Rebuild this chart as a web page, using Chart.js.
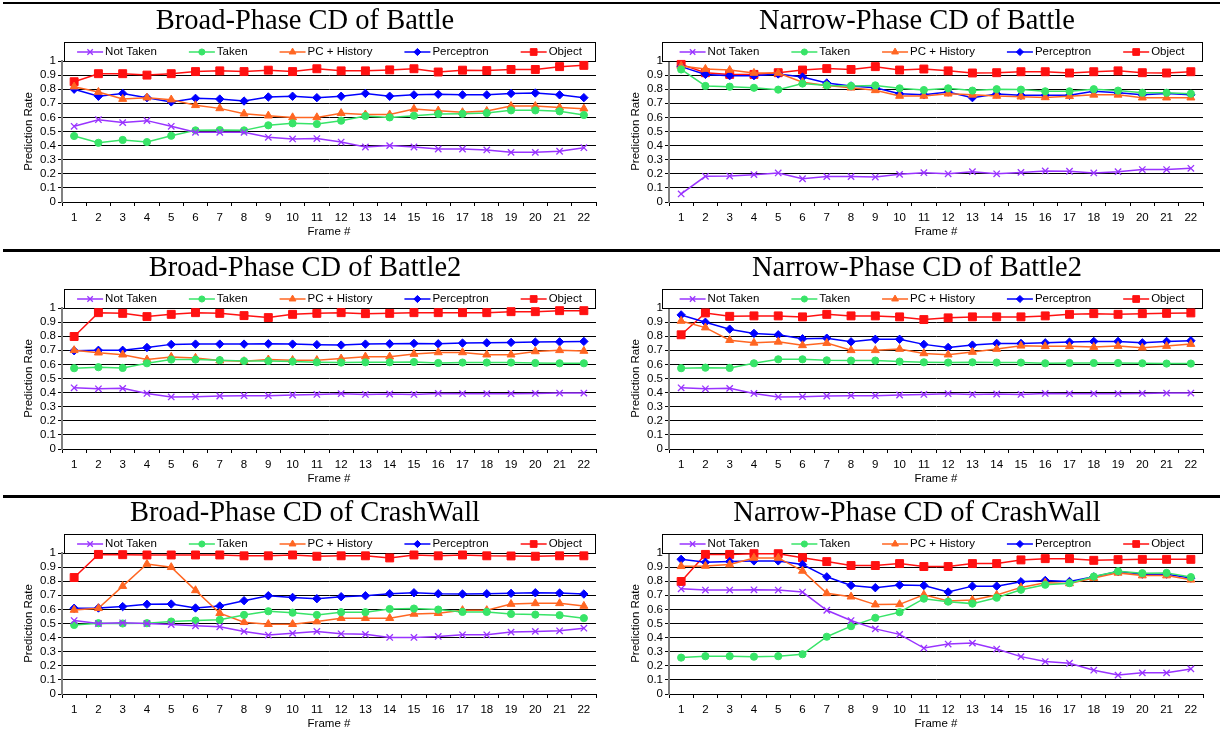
<!DOCTYPE html>
<html>
<head>
<meta charset="utf-8">
<script src="https://cdn.jsdelivr.net/npm/chart.js@4.4.0/dist/chart.umd.min.js"></script>
<style>
  html, body { margin: 0; padding: 0; background: #fff; }
  body { width: 1225px; height: 740px; position: relative; overflow: hidden; }
  .rule { position: absolute; left: 3px; width: 1217px; background: #000; }
  canvas { position: absolute; }
</style>
</head>
<body>
<div class="rule" style="top:2px;height:2px"></div>
<div class="rule" style="top:249px;height:3px"></div>
<div class="rule" style="top:495px;height:3px"></div>

<script>
const frames = ['1', '2', '3', '4', '5', '6', '7', '8', '9', '10', '11', '12', '13', '14', '15', '16', '17', '18', '19', '20', '21', '22'];
const seriesNames = ['Not Taken', 'Taken', 'PC + History', 'Perceptron', 'Object'];
const panelTitles = [
    'Broad-Phase CD of Battle', 'Narrow-Phase CD of Battle',
    'Broad-Phase CD of Battle2', 'Narrow-Phase CD of Battle2',
    'Broad-Phase CD of CrashWall', 'Narrow-Phase CD of CrashWall'
];
const yTicks = [0, 0.1, 0.2, 0.3, 0.4, 0.5, 0.6, 0.7, 0.8, 0.9, 1];
const yTickLabels = ['0', '0.1', '0.2', '0.3', '0.4', '0.5', '0.6', '0.7', '0.8', '0.9', '1'];

// --- Broad-Phase Battle ---
const broadBattleNotTaken = [0.537, 0.584, 0.563, 0.577, 0.537, 0.494, 0.494, 0.494, 0.459, 0.447, 0.45, 0.425, 0.39, 0.40, 0.39, 0.376, 0.376, 0.369, 0.352, 0.352, 0.36, 0.385];
const broadBattleTaken = [0.468, 0.42, 0.44, 0.425, 0.47, 0.508, 0.51, 0.508, 0.544, 0.558, 0.553, 0.577, 0.61, 0.60, 0.612, 0.624, 0.626, 0.631, 0.65, 0.65, 0.643, 0.617];
const broadBattlePC = [0.818, 0.78, 0.73, 0.74, 0.726, 0.686, 0.664, 0.626, 0.612, 0.60, 0.60, 0.63, 0.62, 0.62, 0.66, 0.648, 0.636, 0.645, 0.68, 0.68, 0.67, 0.662];
const broadBattlePerceptron = [0.80, 0.75, 0.77, 0.74, 0.71, 0.735, 0.73, 0.716, 0.745, 0.75, 0.74, 0.75, 0.77, 0.75, 0.76, 0.764, 0.76, 0.76, 0.77, 0.773, 0.76, 0.74];
const broadBattleObject = [0.853, 0.91, 0.91, 0.90, 0.91, 0.925, 0.93, 0.925, 0.935, 0.925, 0.945, 0.93, 0.93, 0.937, 0.945, 0.922, 0.935, 0.932, 0.94, 0.94, 0.96, 0.969];

// --- Narrow-Phase Battle ---
const narrowBattleNotTaken = [0.057, 0.182, 0.184, 0.194, 0.206, 0.165, 0.18, 0.18, 0.177, 0.196, 0.208, 0.20, 0.215, 0.20, 0.21, 0.22, 0.218, 0.206, 0.215, 0.23, 0.23, 0.239];
const narrowBattleTaken = [0.94, 0.823, 0.818, 0.81, 0.797, 0.84, 0.827, 0.823, 0.827, 0.806, 0.794, 0.806, 0.79, 0.80, 0.797, 0.785, 0.785, 0.80, 0.79, 0.775, 0.775, 0.768];
const narrowBattlePC = [0.965, 0.943, 0.936, 0.915, 0.915, 0.85, 0.827, 0.81, 0.792, 0.752, 0.752, 0.768, 0.76, 0.752, 0.747, 0.742, 0.75, 0.76, 0.76, 0.74, 0.74, 0.74];
const narrowBattlePerceptron = [0.96, 0.905, 0.896, 0.896, 0.908, 0.886, 0.844, 0.823, 0.81, 0.768, 0.76, 0.78, 0.74, 0.766, 0.757, 0.757, 0.757, 0.785, 0.775, 0.76, 0.77, 0.76];
const narrowBattleObject = [0.976, 0.917, 0.905, 0.905, 0.917, 0.936, 0.946, 0.94, 0.96, 0.936, 0.943, 0.93, 0.915, 0.917, 0.924, 0.924, 0.915, 0.924, 0.93, 0.917, 0.915, 0.924];

// --- Broad-Phase Battle2 ---
const broadBattle2NotTaken = [0.434, 0.427, 0.43, 0.394, 0.369, 0.371, 0.376, 0.378, 0.378, 0.383, 0.387, 0.392, 0.387, 0.39, 0.387, 0.394, 0.392, 0.392, 0.392, 0.394, 0.397, 0.397];
const broadBattle2Taken = [0.573, 0.58, 0.575, 0.608, 0.634, 0.634, 0.63, 0.624, 0.624, 0.62, 0.615, 0.613, 0.615, 0.615, 0.617, 0.61, 0.613, 0.613, 0.613, 0.61, 0.608, 0.608];
const broadBattle2PC = [0.70, 0.683, 0.669, 0.634, 0.653, 0.646, 0.627, 0.622, 0.634, 0.63, 0.63, 0.641, 0.655, 0.655, 0.674, 0.685, 0.685, 0.669, 0.669, 0.692, 0.70, 0.695];
const broadBattle2Perceptron = [0.697, 0.70, 0.70, 0.72, 0.742, 0.744, 0.744, 0.744, 0.746, 0.744, 0.74, 0.737, 0.744, 0.746, 0.749, 0.746, 0.751, 0.753, 0.756, 0.758, 0.76, 0.763];
const broadBattle2Object = [0.798, 0.967, 0.962, 0.939, 0.955, 0.967, 0.962, 0.946, 0.932, 0.955, 0.962, 0.967, 0.96, 0.962, 0.967, 0.967, 0.967, 0.967, 0.974, 0.974, 0.981, 0.981];

// --- Narrow-Phase Battle2 ---
const narrowBattle2NotTaken = [0.434, 0.427, 0.43, 0.394, 0.369, 0.371, 0.376, 0.378, 0.378, 0.383, 0.387, 0.392, 0.387, 0.39, 0.387, 0.394, 0.392, 0.392, 0.392, 0.394, 0.397, 0.397];
const narrowBattle2Taken = [0.573, 0.577, 0.575, 0.608, 0.636, 0.636, 0.629, 0.627, 0.627, 0.62, 0.615, 0.613, 0.615, 0.613, 0.613, 0.608, 0.61, 0.61, 0.61, 0.608, 0.606, 0.606];
const narrowBattle2PC = [0.908, 0.861, 0.772, 0.753, 0.76, 0.735, 0.751, 0.70, 0.70, 0.709, 0.678, 0.669, 0.688, 0.709, 0.732, 0.728, 0.728, 0.723, 0.73, 0.718, 0.73, 0.744];
const narrowBattle2Perceptron = [0.951, 0.899, 0.85, 0.82, 0.81, 0.782, 0.786, 0.76, 0.778, 0.778, 0.742, 0.72, 0.737, 0.749, 0.749, 0.753, 0.758, 0.763, 0.763, 0.753, 0.763, 0.768];
const narrowBattle2Object = [0.81, 0.965, 0.941, 0.944, 0.944, 0.937, 0.955, 0.944, 0.944, 0.937, 0.918, 0.93, 0.937, 0.937, 0.937, 0.944, 0.955, 0.96, 0.955, 0.96, 0.962, 0.965];

// --- Broad-Phase CrashWall ---
const broadCrashNotTaken = [0.521, 0.50, 0.505, 0.50, 0.493, 0.484, 0.477, 0.444, 0.418, 0.43, 0.444, 0.427, 0.423, 0.401, 0.401, 0.408, 0.42, 0.42, 0.439, 0.444, 0.448, 0.467];
const broadCrashTaken = [0.49, 0.502, 0.50, 0.502, 0.514, 0.521, 0.526, 0.561, 0.587, 0.577, 0.561, 0.58, 0.58, 0.603, 0.606, 0.599, 0.582, 0.582, 0.568, 0.563, 0.559, 0.538];
const broadCrashPC = [0.596, 0.608, 0.765, 0.922, 0.899, 0.735, 0.573, 0.509, 0.495, 0.495, 0.514, 0.538, 0.538, 0.538, 0.568, 0.573, 0.594, 0.594, 0.638, 0.643, 0.643, 0.624];
const broadCrashPerceptron = [0.608, 0.61, 0.62, 0.636, 0.638, 0.61, 0.624, 0.662, 0.697, 0.685, 0.676, 0.69, 0.697, 0.711, 0.718, 0.711, 0.709, 0.711, 0.714, 0.718, 0.716, 0.709];
const broadCrashObject = [0.826, 0.99, 0.988, 0.986, 0.986, 0.986, 0.986, 0.98, 0.98, 0.986, 0.977, 0.98, 0.98, 0.965, 0.986, 0.98, 0.986, 0.98, 0.979, 0.977, 0.98, 0.98];

// --- Narrow-Phase CrashWall ---
const narrowCrashNotTaken = [0.746, 0.737, 0.737, 0.739, 0.737, 0.723, 0.594, 0.521, 0.462, 0.423, 0.326, 0.354, 0.361, 0.319, 0.265, 0.23, 0.218, 0.169, 0.134, 0.15, 0.15, 0.178];
const narrowCrashTaken = [0.258, 0.268, 0.268, 0.265, 0.268, 0.282, 0.406, 0.481, 0.54, 0.58, 0.676, 0.655, 0.641, 0.683, 0.739, 0.775, 0.786, 0.833, 0.871, 0.857, 0.859, 0.829];
const narrowCrashPC = [0.906, 0.908, 0.918, 0.965, 0.965, 0.873, 0.714, 0.69, 0.634, 0.636, 0.704, 0.66, 0.667, 0.702, 0.756, 0.789, 0.784, 0.822, 0.859, 0.84, 0.84, 0.81];
const narrowCrashPerceptron = [0.955, 0.934, 0.939, 0.944, 0.944, 0.918, 0.831, 0.77, 0.754, 0.773, 0.77, 0.723, 0.765, 0.765, 0.796, 0.805, 0.798, 0.831, 0.869, 0.85, 0.85, 0.822];
const narrowCrashObject = [0.798, 0.99, 0.99, 0.995, 0.995, 0.967, 0.939, 0.911, 0.911, 0.925, 0.904, 0.904, 0.925, 0.925, 0.951, 0.96, 0.96, 0.948, 0.953, 0.955, 0.955, 0.955];

const panelSeries = [
    [broadBattleNotTaken, broadBattleTaken, broadBattlePC, broadBattlePerceptron, broadBattleObject],
    [narrowBattleNotTaken, narrowBattleTaken, narrowBattlePC, narrowBattlePerceptron, narrowBattleObject],
    [broadBattle2NotTaken, broadBattle2Taken, broadBattle2PC, broadBattle2Perceptron, broadBattle2Object],
    [narrowBattle2NotTaken, narrowBattle2Taken, narrowBattle2PC, narrowBattle2Perceptron, narrowBattle2Object],
    [broadCrashNotTaken, broadCrashTaken, broadCrashPC, broadCrashPerceptron, broadCrashObject],
    [narrowCrashNotTaken, narrowCrashTaken, narrowCrashPC, narrowCrashPerceptron, narrowCrashObject]
];

// styles, one per series
const seriesStyle = [
    { color: '#9933FF', pointStyle: 'crossRot', radius: 4.5, pointBorder: 1.3 },
    { color: '#38E468', pointStyle: 'circle', radius: 3.6, pointBorder: 1 },
    { color: '#FF6622', pointStyle: 'triangle', radius: 4.6, pointBorder: 1 },
    { color: '#0000FF', pointStyle: 'rectRot', radius: 4.2, pointBorder: 1 },
    { color: '#FF1111', pointStyle: 'rect', radius: 5.6, pointBorder: 1 }
];

// layout of the 3x2 grid
const colPos = [
    { left: 0, width: 610, padRight: 14, legendLeft: 2 },
    { left: 607, width: 620, padRight: 24, legendLeft: -7 }
];
const rowTops = [4, 251, 496];
const canvasHeight = 244;

const sansFont = '"Liberation Sans", Arial, sans-serif';
const labelSize = 11.5;

// legend drawn inside a bordered box sitting on top of the plot area
const legendBox = {
    id: 'legendBox',
    beforeDatasetsDraw(chart, args, opts) {
        const { ctx, chartArea } = chart;
        const x0 = Math.round(chartArea.left + opts.left);
        const x1 = Math.round(chartArea.right - 1);
        const y1 = Math.round(chartArea.top);
        const y0 = y1 - 19;
        ctx.save();
        ctx.fillStyle = '#fff';
        ctx.fillRect(x0, y0, x1 - x0, y1 - y0);
        ctx.strokeStyle = '#000';
        ctx.lineWidth = 1;
        ctx.strokeRect(x0 + 0.5, y0 + 0.5, x1 - x0, y1 - y0);

        ctx.font = labelSize + 'px ' + sansFont;
        ctx.textBaseline = 'middle';
        ctx.textAlign = 'left';
        const lineLen = 26, gap = 32;
        const items = chart.data.datasets.map(ds => ({ ds, w: ctx.measureText(ds.label).width }));
        const total = items.reduce((s, it) => s + lineLen + 2 + it.w, 0) + gap * (items.length - 1);
        let x = (x0 + x1) / 2 - total / 2;
        const yc = (y0 + y1) / 2 + 0.5;
        items.forEach(({ ds, w }) => {
            ctx.strokeStyle = ds.borderColor;
            ctx.lineWidth = ds.borderWidth;
            ctx.beginPath();
            ctx.moveTo(x, yc);
            ctx.lineTo(x + lineLen, yc);
            ctx.stroke();
            ctx.fillStyle = ds.pointBackgroundColor;
            ctx.strokeStyle = ds.pointBorderColor;
            ctx.lineWidth = ds.pointBorderWidth;
            Chart.helpers.drawPoint(ctx, {
                pointStyle: ds.pointStyle, radius: ds.pointRadius * 0.85,
                borderWidth: ds.pointBorderWidth, rotation: 0
            }, x + lineLen / 2, yc);
            ctx.fillStyle = '#000';
            ctx.fillText(ds.label, x + lineLen + 2, yc);
            x += lineLen + 2 + w + gap;
        });
        ctx.restore();
    }
};

panelTitles.forEach((title, i) => {
    const col = colPos[i % 2];
    const top = rowTops[Math.floor(i / 2)];
    const canvas = document.createElement('canvas');
    canvas.width = col.width;
    canvas.height = canvasHeight;
    canvas.style.left = col.left + 'px';
    canvas.style.top = top + 'px';
    document.body.appendChild(canvas);

    const datasets = panelSeries[i].map((values, k) => ({
        label: seriesNames[k],
        data: values,
        borderColor: seriesStyle[k].color,
        backgroundColor: seriesStyle[k].color,
        borderWidth: 1.5,
        pointStyle: seriesStyle[k].pointStyle,
        pointRadius: seriesStyle[k].radius,
        pointBackgroundColor: seriesStyle[k].color,
        pointBorderColor: seriesStyle[k].color,
        pointBorderWidth: seriesStyle[k].pointBorder,
        tension: 0,
        fill: false,
        clip: false
    }));

    new Chart(canvas, {
        type: 'line',
        data: { labels: frames, datasets: datasets },
        plugins: [legendBox],
        options: {
            responsive: false,
            animation: false,
            events: [],
            layout: { padding: 0 },
            plugins: {
                legend: { display: false },
                tooltip: { enabled: false },
                title: {
                    display: true,
                    text: title,
                    color: '#000',
                    font: { family: '"Liberation Serif", "Times New Roman", serif', size: 28.5, weight: 'normal' },
                    padding: { top: 0, bottom: 22.8 }
                },
                legendBox: { left: col.legendLeft }
            },
            scales: {
                x: {
                    offset: true,
                    grid: { offset: true, drawOnChartArea: false, drawTicks: true, tickLength: 4, color: '#000' },
                    border: { color: '#000', width: 1 },
                    ticks: { color: '#000', font: { family: sansFont, size: labelSize }, padding: 5, maxRotation: 0, autoSkip: false },
                    title: { display: true, text: 'Frame #', color: '#000', font: { family: sansFont, size: labelSize }, padding: { top: 0, bottom: 9 } },
                    afterFit(scale) { scale.height = 46; }
                },
                y: {
                    min: 0,
                    max: 1,
                    afterBuildTicks(scale) { scale.ticks = yTicks.map(v => ({ value: v })); },
                    ticks: {
                        color: '#000',
                        font: { family: sansFont, size: labelSize },
                        padding: 2,
                        autoSkip: false,
                        callback: (v, idx) => yTickLabels[idx]
                    },
                    grid: { color: '#000', tickLength: 4, lineWidth: 1 },
                    border: { color: '#808080', width: 2 },
                    title: { display: true, text: 'Prediction Rate', color: '#000', font: { family: sansFont, size: labelSize }, padding: { top: 22, bottom: 0 } },
                    afterFit(scale) { scale.width = 62; }
                },
                yRight: {
                    type: 'linear',
                    position: 'right',
                    display: true,
                    grid: { display: false, drawTicks: false },
                    border: { display: false },
                    ticks: { display: false },
                    afterFit(scale) { scale.width = col.padRight; }
                }
            }
        }
    });
});
</script>
</body>
</html>
